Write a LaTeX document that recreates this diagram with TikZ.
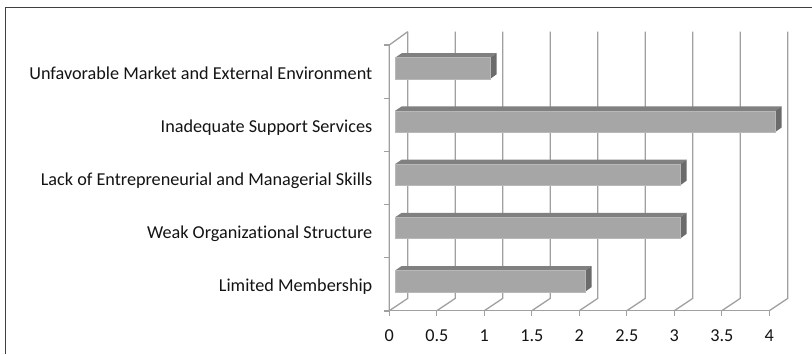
\documentclass[tikz,border=0pt]{standalone}
\usepackage{fontspec}
\setmainfont{Carlito}[Ligatures={NoCommon}]
\definecolor{gridc}{HTML}{A0A0A0}
\definecolor{barfront}{HTML}{A6A6A6}
\definecolor{bartop}{HTML}{808080}
\definecolor{barside}{HTML}{6B6B6B}
\definecolor{frame}{HTML}{404040}
\tikzset{
  gridline/.style={draw=gridc, line width=1.3bp},
  frontface/.style={fill=barfront, draw=barfront!80!white, line width=0.5bp},
  topface/.style={fill=bartop},
  sideface/.style={fill=barside},
  catlabel/.style={anchor=base east, inner sep=0pt, font=\fontsize{18.2bp}{21bp}\selectfont, text=black!92},
  ticklabel/.style={anchor=base, inner sep=0pt, font=\fontsize{18.2bp}{21bp}\selectfont, text=black!92},
}
\begin{document}
\begin{tikzpicture}[x=1bp,y=-1bp]
\useasboundingbox (0,0) rectangle (812,354);
\fill[white] (0,0) rectangle (812,354);
% frame (left and top)
\draw[frame, line width=1.2bp] (5.6,354) -- (5.6,7.3) -- (812,7.3);
% constants
\def\xz{389.3}
\def\un{95}
\def\dx{18.4}
\def\dy{12.3}
\def\yf{310.7}
\def\yt{45}
% back wall gridlines
\foreach \k in {0,...,8}{
  \pgfmathsetmacro{\xx}{\xz+\k*\un/2}
  \coordinate (f\k) at (\xx,\yf);
  \coordinate (b\k) at (\xx+\dx,\yf-\dy);
  \coordinate (t\k) at (\xx+\dx,31.7);
  \draw[gridline] (f\k) -- (b\k) -- (t\k);
  \draw[gridline] (f\k) -- ++(0,5.3);
}
% floor front line
\draw[gridline] (f0) -- (f8);
% left wall front vertical and top diagonal
\coordinate (lt) at (\xz,\yt);
\draw[gridline] (f0) -- (lt) -- (t0);
% left ticks
\foreach \k in {0,...,5}{
  \draw[gridline] (\xz,\yt+\k*53.2) -- ++(-5.3,0);
}
% bars
\foreach \i/\v in {0/1,1/4,2/3,3/3,4/2}{
  \pgfmathsetmacro{\ya}{57.7+\i*53.2}
  \pgfmathsetmacro{\yb}{79+\i*53.2}
  \pgfmathsetmacro{\xr}{395+\v*\un}
  \fill[topface] (395,\ya) -- (401.7,\ya-4.5) -- (\xr+6.7,\ya-4.5) -- (\xr,\ya) -- cycle;
  \fill[sideface] (\xr,\ya) -- (\xr+6.7,\ya-4.5) -- (\xr+6.7,\yb-4.8) -- (\xr,\yb) -- cycle;
  \path[frontface] (395,\ya) rectangle (\xr,\yb);
}
% category labels
\foreach \i/\t in {0/Unfavorable Market and External Environment,
                   1/Inadequate Support Services,
                   2/Lack of Entrepreneurial and Managerial Skills,
                   3/Weak Organizational Structure,
                   4/Limited Membership}{
  \node[catlabel] (c\i) at (372.5,79+\i*53.2) {\t};
}
% tick labels
\foreach \k/\t in {0/0,1/0.5,2/1,3/1.5,4/2,5/2.5,6/3,7/3.5,8/4}{
  \node[ticklabel] (n\k) at (\xz+\k*\un/2,341) {\t};
}
\end{tikzpicture}
\end{document}
